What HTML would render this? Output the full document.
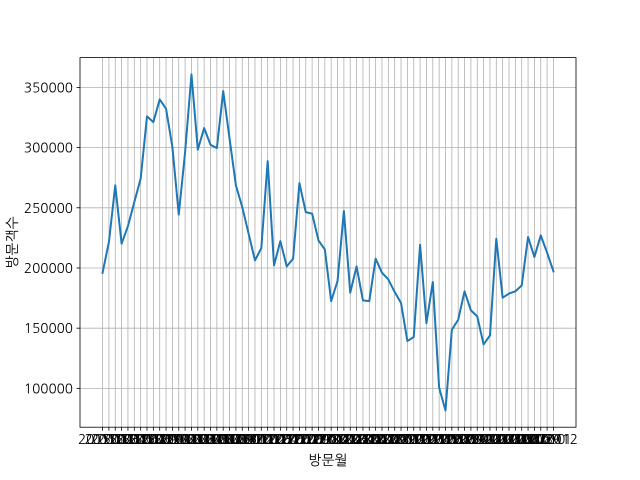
<!DOCTYPE html>
<html><head><meta charset="utf-8">
<style>
html,body{margin:0;padding:0;background:#fff;}
svg{display:block;font-family:"NanumGothic","DejaVu Sans","Noto Sans CJK KR",sans-serif;}
</style></head>
<body>
<svg id="chart" width="640" height="480" viewBox="0 0 640 480" xmlns="http://www.w3.org/2000/svg">
<rect width="640" height="480" fill="#fff"/>
<g id="grid"></g>
<g id="plot"></g>
<g id="axes"></g>
<text x="328" y="465" font-size="13.9" text-anchor="middle" fill="#000">방문월</text>
<text transform="translate(17,242.4) rotate(-90)" font-size="13.9" text-anchor="middle" fill="#000">방문객수</text>
</svg>
<script>
const values = [196000,221500,268600,220200,234800,254700,274200,325900,321200,340000,332300,300400,
244300,296300,360800,298300,316200,302400,299600,346900,307400,268600,250600,228500,
206300,216500,288800,202200,222300,201300,207700,270500,246400,245100,222900,215400,
172500,189100,247300,179500,201300,173100,172500,207700,196100,190500,180000,170900,
139300,142600,219300,154200,188300,100500,81700,148700,157000,180600,164800,159800,
136500,144000,224300,175300,178700,180600,185500,225700,209100,227100,212700,197200];
const years = [2015,2016,2017,2018,2019,2020];
const months = ["01","02","03","04","05","06","07","08","09","10","11","12"];
const yTicks = [100000,150000,200000,250000,300000,350000];
const categories = [];
years.forEach(y=>months.forEach(m=>categories.push(y+m)));

const NS="http://www.w3.org/2000/svg";
const L=80,R=576,T=57.6,B=427.2;
const n=values.length;
const xmin=-0.05*(n-1), xmax=(n-1)*1.05;
const vmin=Math.min(...values), vmax=Math.max(...values), pad=(vmax-vmin)*0.05;
const ymin=vmin-pad, ymax=vmax+pad;
const xs=i=>L+(i-xmin)/(xmax-xmin)*(R-L);
const ys=v=>B-(v-ymin)/(ymax-ymin)*(B-T);
function mk(tag,attrs,parent){const e=document.createElementNS(NS,tag);for(const k in attrs)e.setAttribute(k,attrs[k]);parent.appendChild(e);return e;}
const grid=document.getElementById('grid'),plot=document.getElementById('plot'),axes=document.getElementById('axes');

categories.forEach((c,i)=>{
  const x=xs(i);
  const g=mk('line',{x1:x,x2:x,y1:T,y2:B,stroke:'#b0b0b0','stroke-width':0.8},grid);
  
  
  const t=mk('line',{x1:x,x2:x,y1:B,y2:B+3.5,stroke:'#000','stroke-width':0.8},axes);
  
  
  const lb=mk('text',{x:x,y:B+17,'font-size':13.5,'text-anchor':'middle',fill:'#000'},axes);
  lb.textContent=c;
  
  
});
yTicks.forEach(v=>{
  const y=ys(v);
  const g=mk('line',{x1:L,x2:R,y1:y,y2:y,stroke:'#b0b0b0','stroke-width':0.8},grid);
  
  
  const t=mk('line',{x1:L-3.5,x2:L,y1:y,y2:y,stroke:'#000','stroke-width':0.8},axes);
  
  
  const lb=mk('text',{x:L-7,y:y+5,'font-size':13.5,'text-anchor':'end',fill:'#000'},axes);
  lb.textContent=String(v);
  
  
});
const pts=values.map((v,i)=>xs(i).toFixed(2)+','+ys(v).toFixed(2)).join(' ');
const line=mk('polyline',{points:pts,fill:'none',stroke:'#1f77b4','stroke-width':2,'stroke-linejoin':'round','stroke-linecap':'square'},plot);


const frame=mk('rect',{x:L,y:T,width:R-L,height:B-T,fill:'none',stroke:'#000','stroke-width':0.8},axes);


</script>
</body></html>
